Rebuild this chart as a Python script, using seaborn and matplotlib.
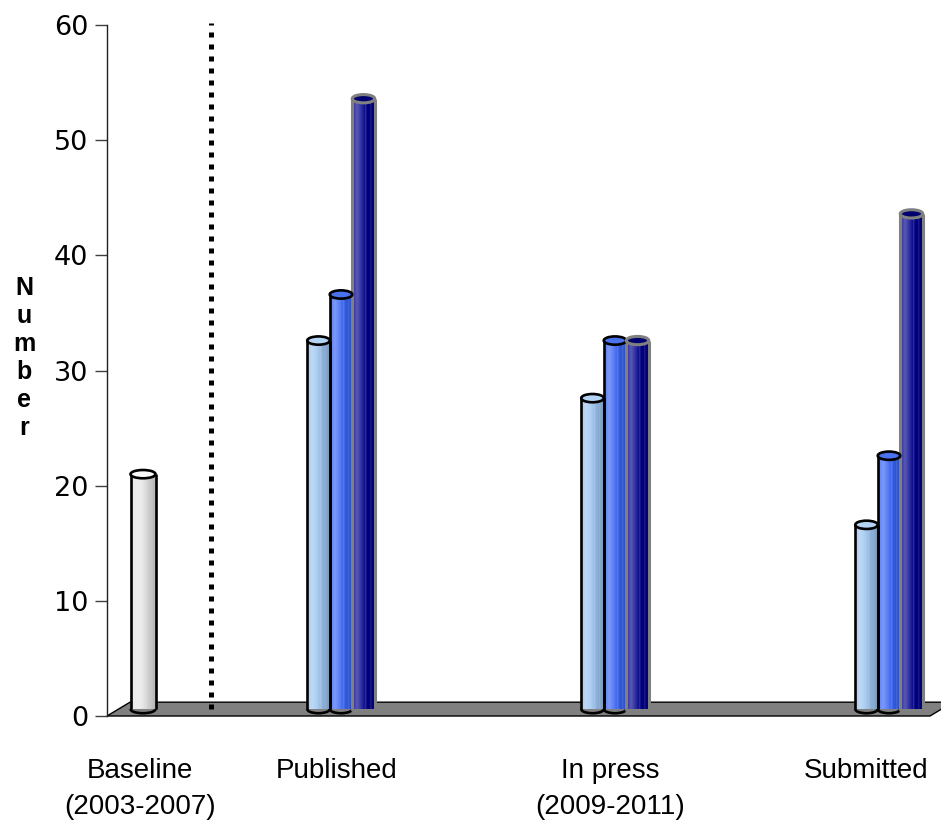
import numpy as np
import pandas as pd
import matplotlib
matplotlib.use("Agg")
import matplotlib.pyplot as plt
import seaborn as sns
from matplotlib.patches import Ellipse, Arc, Polygon
from matplotlib.colors import to_rgb

# values
categories = ["Baseline\n(2003-2007)", "Published", "In press\n(2009-2011)", "Submitted"]
baseline = [20.4]
published = [32, 36, 53]
in_press = [27, 32, 32]
submitted = [16, 22, 43]
series = ["Series 1", "Series 2", "Series 3"]
y_ticks = [0, 10, 20, 30, 40, 50, 60]

# layout, x measured in group spacings
PX = 274.0
group_x = [1 - 198 / PX, 1.0, 2.0, 3.0]
label_x = [0.266, 0.985, 1.982, 2.916]
bar_w = 22.5 / PX
divider_x = 1 - 130 / PX
x_lo, x_hi = 1 - 234 / PX, 1 + 589 / PX
depth = 23 / PX
base = 0.6      # bars stand in the middle of the floor
cap_h = 0.72

colors = {"Baseline": "#e6e6e6", "Series 1": "#9cc4f0", "Series 2": "#3763f4", "Series 3": "#00008c"}
edges = {"Baseline": "black", "Series 1": "black", "Series 2": "black", "Series 3": "#808080"}
caps = {"Baseline": "#fafafa", "Series 1": "#b4d4f6", "Series 2": "#4a72f0", "Series 3": "#00006e"}

rows = [{"pos": group_x[0], "value": baseline[0], "series": "Baseline"}]
for gx, vals in zip(group_x[1:], [published, in_press, submitted]):
    for k, (name, v) in enumerate(zip(series, vals)):
        rows.append({"pos": gx + (k - 1) * bar_w, "value": v, "series": name})
df = pd.DataFrame(rows)


def shade_strip(rgb, n=80):
    t = np.linspace(0, 1, n)
    light = 0.35 * np.clip(1 - np.abs(t - 0.22) / 0.4, 0, 1)
    dark = 0.22 * np.clip((t - 0.45) / 0.55, 0, 1)
    stripes = 0.2 * (((t > 0.58) & (t < 0.63)) | ((t > 0.8) & (t < 0.84)))
    w = (light + stripes)[:, None]
    out = np.array(rgb)[None, :] * (1 - w) + w
    out = out * (1 - dark[:, None])
    return np.clip(out, 0, 1)[None, :, :]


sns.set_theme(style="white")
plt.rcParams.update({"text.color": "black", "xtick.color": "black",
                     "ytick.color": "black", "axes.labelcolor": "black"})
fig = plt.figure(figsize=(9.41, 8.21), dpi=100)
ax = fig.add_axes([107 / 941, 1 - 716 / 821, 823 / 941, 691 / 821])

sns.barplot(data=df, x="pos", y="value", hue="series", palette=colors,
            native_scale=True, dodge=False, width=1, errorbar=None,
            legend=False, ax=ax, zorder=2)

for p in list(ax.patches):
    xc = p.get_x() + p.get_width() / 2
    row = df.iloc[(df["pos"] - xc).abs().argmin()]
    name, v = row["series"], row["value"]
    w = p.get_width()
    if name == "Baseline":
        w = 25 / PX
    x0, x1 = xc - w / 2, xc + w / 2
    p.set_visible(False)
    ax.imshow(shade_strip(to_rgb(colors[name])), extent=[x0, x1, base, base + v],
              aspect="auto", interpolation="bilinear", zorder=3)
    ec = edges[name]
    lw = 1.9 if ec == "black" else 2.2
    ax.vlines([x0, x1], base, base + v, color=ec, lw=lw, zorder=4)
    ax.add_patch(Arc((xc, base), w, cap_h, theta1=180, theta2=360,
                     color=ec, lw=lw, zorder=4))
    ax.add_patch(Ellipse((xc, base + v), w, cap_h, facecolor=caps[name],
                         edgecolor=ec, lw=lw, zorder=5))

# floor
ax.add_patch(Polygon([(x_lo, 0), (x_hi, 0), (x_hi + depth, 1.2), (x_lo + depth, 1.2)],
                     closed=True, facecolor="#808080", edgecolor="black", lw=1,
                     clip_on=False, zorder=1))

# divider between baseline and the later years
ax.plot([divider_x, divider_x], [0.6, 60.2], color="black", lw=3.6,
        linestyle=(0, (1, 1.4)), dash_capstyle="butt", zorder=6, clip_on=False)

ax.set_xlim(x_lo, x_hi)
ax.set_ylim(0, 60)
ax.set_yticks(y_ticks)
ax.set_yticklabels([str(t) for t in y_ticks], fontsize=19.5, family="DejaVu Sans")
ax.tick_params(axis="y", length=8.6, width=1, color="#404040", pad=5, left=True)
ax.set_xticks(label_x)
ax.set_xticklabels(categories, fontsize=20, family="Liberation Sans", linespacing=1.5)
ax.tick_params(axis="x", length=0, pad=30)
ax.set_xlabel("")
ax.set_ylabel("")
for side in ["top", "right", "bottom"]:
    ax.spines[side].set_visible(False)
ax.spines["left"].set_color("#202020")
ax.spines["left"].set_linewidth(1)

fig.text(24 / 941, 1 - 358 / 821, "\n".join("Number"), ha="center", va="center",
         fontsize=18, fontweight="bold", family="Liberation Sans", linespacing=1.22)

fig.savefig("out.png", dpi=100)
